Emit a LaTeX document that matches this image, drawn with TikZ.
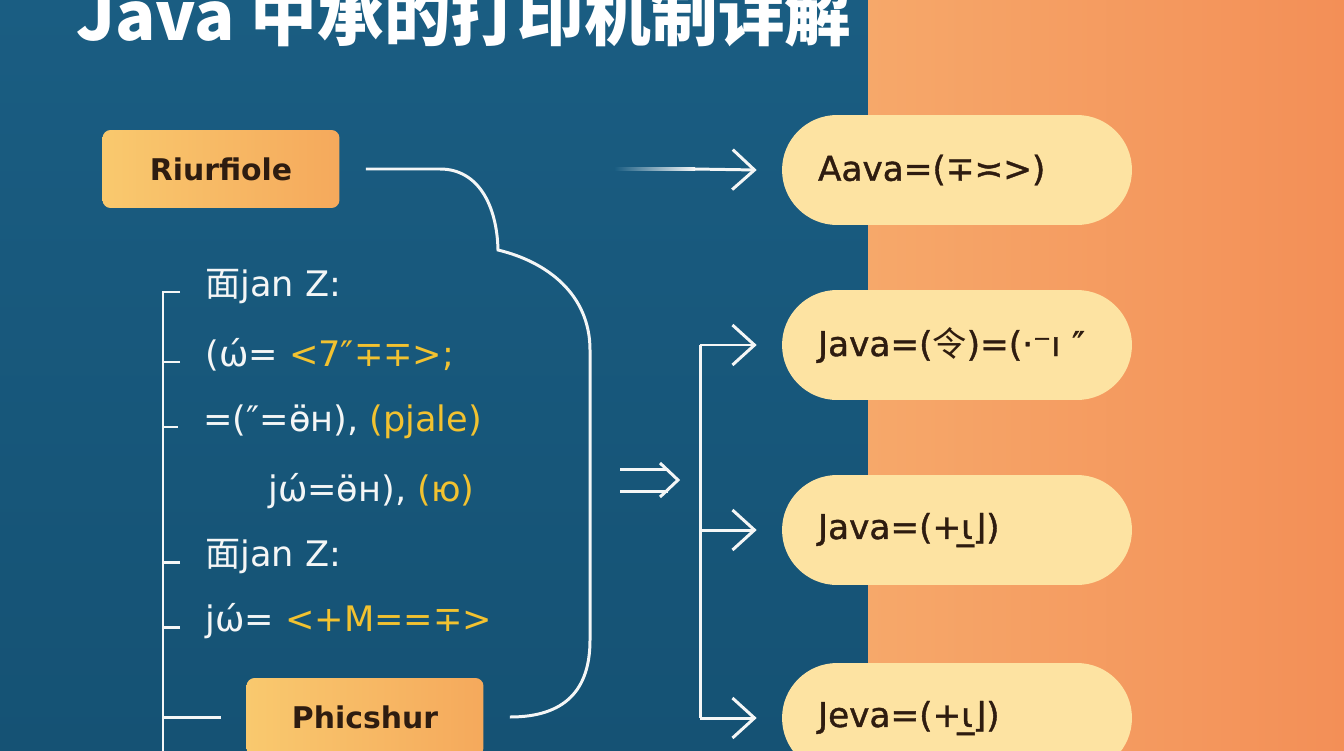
\documentclass[tikz,border=0pt]{standalone}
\usepackage{fontspec}
\setmainfont{DejaVu Sans}
\newfontfamily\cjk{Noto Sans CJK SC}
\newfontfamily\pillfont[FakeBold=1.2]{DejaVu Sans}
\usetikzlibrary{arrows.meta}

\definecolor{bgblue}{HTML}{1A5D82}
\definecolor{bgbluedk}{HTML}{155274}
\definecolor{bgorange}{HTML}{F6A86A}
\definecolor{bgorangedk}{HTML}{F38F57}
\definecolor{pillfill}{HTML}{FDE3A2}
\definecolor{pilltext}{HTML}{2E1C10}
\definecolor{boxleft}{HTML}{F9C96E}
\definecolor{boxright}{HTML}{F5A95C}
\definecolor{codeyel}{HTML}{F2C230}
\definecolor{linewhite}{HTML}{F4F6F6}

\begin{document}
\begin{tikzpicture}[
    x=0.02cm, y=-0.02cm,
    conn/.style={draw=linewhite, line width=1.7pt},
    arr/.style={conn, -{Straight Barb[length=4.4mm, width=8mm]}},
    hdbox/.style={rectangle, rounded corners=1.6mm, left color=boxleft, right color=boxright, minimum width=4.74cm, minimum height=1.56cm, text=pilltext, font=\bfseries\fontsize{17}{20}\selectfont},
    pill/.style={rectangle, rounded corners=1.1cm, fill=pillfill, minimum width=7cm, minimum height=2.2cm, text width=5.56cm, inner xsep=0.72cm, align=left, text=pilltext, font=\pillfont\fontsize{19.5}{23}\selectfont},
    code/.style={anchor=mid west, inner sep=0pt, text=linewhite, font=\fontsize{20}{24}\selectfont}
    ]
    \useasboundingbox (0,0) rectangle (1344,750);
    \clip (0,0) rectangle (1344,750);
    \shade[top color=bgblue, bottom color=bgbluedk] (0,0) rectangle (868,750);
    \shade[left color=bgorange, right color=bgorangedk] (868,0) rectangle (1344,750);

    \node[anchor=base west, inner sep=0pt, text=white, font=\cjk\bfseries\fontsize{38}{40}\selectfont] (title) at (76,41) {Java 中承的打印机制详解};

    \node[hdbox] (srcbox) at (221,169) {Riurfiole};
    \node[hdbox] (endbox) at (365,717) {Phicshur};

    \node[code] (l1) at (205,292) {{\cjk 面}jan Z:};
    \node[code] (l2) at (205,362) {(ώ= \textcolor{codeyel}{<7″∓∓>;}};
    \node[code] (l3) at (203,427) {=(″=ӫн), \textcolor{codeyel}{(pjale)}};
    \node[code] (l4) at (268,497) {jώ=ӫн), \textcolor{codeyel}{(ю)}};
    \node[code] (l5) at (205,562) {{\cjk 面}jan Z:};
    \node[code] (l6) at (205,627) {jώ= \textcolor{codeyel}{<+M==∓>}};

    \node[pill] (out1) at (957,170) {Aava=(∓≍>)};
    \node[pill] (out2) at (957,345) {Java=({\cjk 令})=(·⁻ı ″};
    \node[pill] (out3) at (957,530) {Java=(+ɩ̲⌋)};
    \node[pill] (out4) at (957,718) {Jeva=(+ɩ̲⌋)};

    % left bracket
    \coordinate (lbar) at (163,770);
    \draw[conn] ([xshift=-0.5cm]l1.mid west) -| (lbar);
    \foreach \n in {l2,l3,l5,l6}
        \draw[conn] ([xshift=-0.5cm]\n.mid west) -- (lbar |- \n.mid west);
    \draw[conn] ([xshift=-0.5cm]endbox.west) -- (lbar |- endbox.west);

    % loop from top box to bottom box
    \draw[conn] ([xshift=0.52cm]srcbox.east) -- (440,169) .. controls (478,169) and (497,205) .. (498,250)
        .. controls (548,262) and (590,295) .. (590,350) -- (590,640)
        .. controls (590,690) and (565,717) .. ([xshift=0.52cm]endbox.east);

    % double arrow
    \coordinate (dbl) at (620,480);
    \draw[conn] (dbl) ++(0,-11) -- ++(48,0) (dbl) ++(0,11) -- ++(48,0);
    \draw[conn, line join=miter] (660,463) -- (678,480) -- (660,497);

    % right bracket
    \coordinate (rbar) at (700,0);
    \draw[conn] (rbar |- out2.west) -- (rbar |- out4.west);
    \foreach \n in {out2,out3,out4}
        \draw[arr] (rbar |- \n.west) -- ([xshift=-0.5cm]\n.west);

    % faded arrow to first pill
    \shade[left color=bgblue, right color=linewhite] (615,167.5) rectangle (695,170.5);
    \draw[arr] (694,169) -- ([xshift=-0.5cm]out1.west);
\end{tikzpicture}
\end{document}
